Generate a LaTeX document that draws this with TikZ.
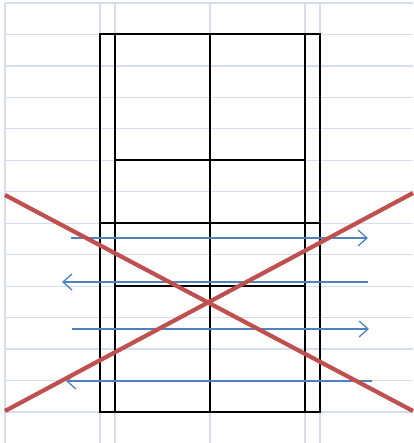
\documentclass[tikz,border=0pt]{standalone}
\usepackage{tikz}
\usetikzlibrary{arrows.meta}
\definecolor{gridblue}{RGB}{214,221,236}
\definecolor{crossred}{RGB}{192,80,77}
\definecolor{passblue}{RGB}{79,129,189}
\tikzset{
  % Base styles
  sheet base/.style={x=1pt, y=-1pt},
  % Background grid
  grid line/.style={draw=gridblue, line width=1.2pt},
  % Court markings
  court line/.style={draw=black, line width=1.3pt},
  % Passes across the court
  pass arrow/.style={draw=passblue, line width=1.5pt,
    -{Straight Barb[length=9pt, width=16pt, line width=1.3pt]}},
  % Cross over the whole drill
  cross line/.style={draw=crossred, line width=4.2pt},
}

\begin{document}
\begin{tikzpicture}[sheet base]
  \useasboundingbox (0,0) rectangle (413,443);
  % grid
  \foreach \k in {0,...,13}
    \draw[grid line] (5,{3+31.46*\k}) -- (413,{3+31.46*\k});
  \foreach \gx in {5,100,115,210,305,320}
    \draw[grid line] (\gx,3) -- (\gx,443);
  % court
  \coordinate (TL) at (100,34);
  \coordinate (BR) at (320,412);
  \draw[court line] (TL) rectangle (BR);
  \draw[court line] (115,34) -- (115,412);
  \draw[court line] (305,34) -- (305,412);
  \draw[court line] (210,34) -- (210,412);
  \draw[court line] (115,160) -- (305,160);
  \draw[court line] (100,223) -- (320,223);
  \draw[court line] (115,286) -- (305,286);
  % passes
  \coordinate (P1a) at (71,238);  \coordinate (P1b) at (368,238);
  \coordinate (P2a) at (368,282); \coordinate (P2b) at (62,282);
  \coordinate (P3a) at (72,329);  \coordinate (P3b) at (369,329);
  \coordinate (P4a) at (372,381); \coordinate (P4b) at (66,381);
  \draw[pass arrow] (P1a) -- (P1b);
  \draw[pass arrow] (P2a) -- (P2b);
  \draw[pass arrow] (P3a) -- (P3b);
  \draw[pass arrow] (P4a) -- (P4b);
  % cross
  \coordinate (XA) at (5,195);  \coordinate (XB) at (413,411);
  \coordinate (XC) at (5,411);  \coordinate (XD) at (413,193);
  \draw[cross line] (XA) -- (XB);
  \draw[cross line] (XC) -- (XD);
\end{tikzpicture}
\end{document}
